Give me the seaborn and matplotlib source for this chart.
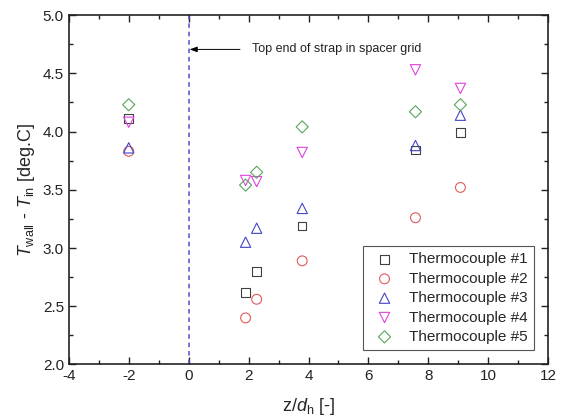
import numpy as np
import pandas as pd
import matplotlib
matplotlib.use("Agg")
import matplotlib.pyplot as plt
import seaborn as sns
from matplotlib.ticker import MultipleLocator

sns.set_theme(style="white")
plt.rcParams['font.family'] = ['Liberation Sans', 'DejaVu Sans']
plt.rcParams['mathtext.fontset'] = 'custom'
plt.rcParams['mathtext.rm'] = 'Liberation Sans'
plt.rcParams['mathtext.it'] = 'Liberation Sans:italic'
plt.rcParams['axes.unicode_minus'] = False

# Data
z_pos = [-2.0, 1.90, 2.27, 3.79, 7.57, 9.07]
tc1 = [4.11, 2.62, 2.80, 3.19, 3.84, 3.99]
tc2 = [3.83, 2.40, 2.56, 2.89, 3.26, 3.52]
tc3 = [3.86, 3.05, 3.17, 3.34, 3.88, 4.14]
tc4 = [4.08, 3.58, 3.57, 3.82, 4.53, 4.37]
tc5 = [4.23, 3.54, 3.65, 4.04, 4.17, 4.23]
labels = ["Thermocouple #1", "Thermocouple #2", "Thermocouple #3",
          "Thermocouple #4", "Thermocouple #5"]
series = [tc1, tc2, tc3, tc4, tc5]
markers = ['s', 'o', '^', 'v', 'D']
colors = ['#404040', '#e05a5a', '#4545c8', '#dd44dd', '#5aa55a']
sizes = [38, 50, 55, 55, 38]

fig = plt.figure(figsize=(5.64, 4.18), dpi=100)
ax = fig.add_axes([0.122, 0.128, 0.850, 0.836])

for lab, vals, m, c, s in zip(labels, series, markers, colors, sizes):
    df = pd.DataFrame({"z": z_pos, "T": vals})
    sns.scatterplot(data=df, x="z", y="T", marker=m, s=s, facecolors='none',
                    edgecolors=c, linewidth=0.8, label=lab, ax=ax)

ax.axvline(0, color='#5050d0', linestyle=(0, (3, 2.5)), linewidth=1.1, zorder=1)
ax.annotate('Top end of strap in spacer grid', xy=(0.03, 4.705), xytext=(2.1, 4.705),
            fontsize=9, va='center', ha='left', color='#222222',
            arrowprops=dict(arrowstyle='-|>,head_length=0.5,head_width=0.18',
                            color='black', lw=0.7, shrinkA=6, shrinkB=0))

ax.set_xlim(-4, 12)
ax.set_ylim(2.0, 5.0)
ax.xaxis.set_major_locator(MultipleLocator(2))
ax.xaxis.set_minor_locator(MultipleLocator(1))
ax.yaxis.set_major_locator(MultipleLocator(0.5))
ax.yaxis.set_minor_locator(MultipleLocator(0.25))
ax.yaxis.set_major_formatter(matplotlib.ticker.FormatStrFormatter('%.1f'))
ax.tick_params(which='both', direction='in', top=True, right=True,
               bottom=True, left=True, labelsize=11, colors='#222222', width=1)
ax.tick_params(which='major', length=5)
ax.tick_params(which='minor', length=3)
for sp in ax.spines.values():
    sp.set_color('#222222')
    sp.set_linewidth(1.2)

ax.set_xlabel(r'z/$\it{d}_\mathrm{h}$ [-]', fontsize=13, labelpad=9)
ax.set_ylabel(r'$\it{T}_\mathrm{wall}$ - $\it{T}_\mathrm{in}$ [deg.C]', fontsize=13, labelpad=4)

leg = ax.legend(loc='lower right', fontsize=11, frameon=True, fancybox=False,
                framealpha=1, edgecolor='#555555', borderaxespad=0.95,
                handletextpad=0.6, labelspacing=0.35, borderpad=0.4)
leg.get_frame().set_linewidth(0.8)

fig.savefig('out.png', dpi=100)
